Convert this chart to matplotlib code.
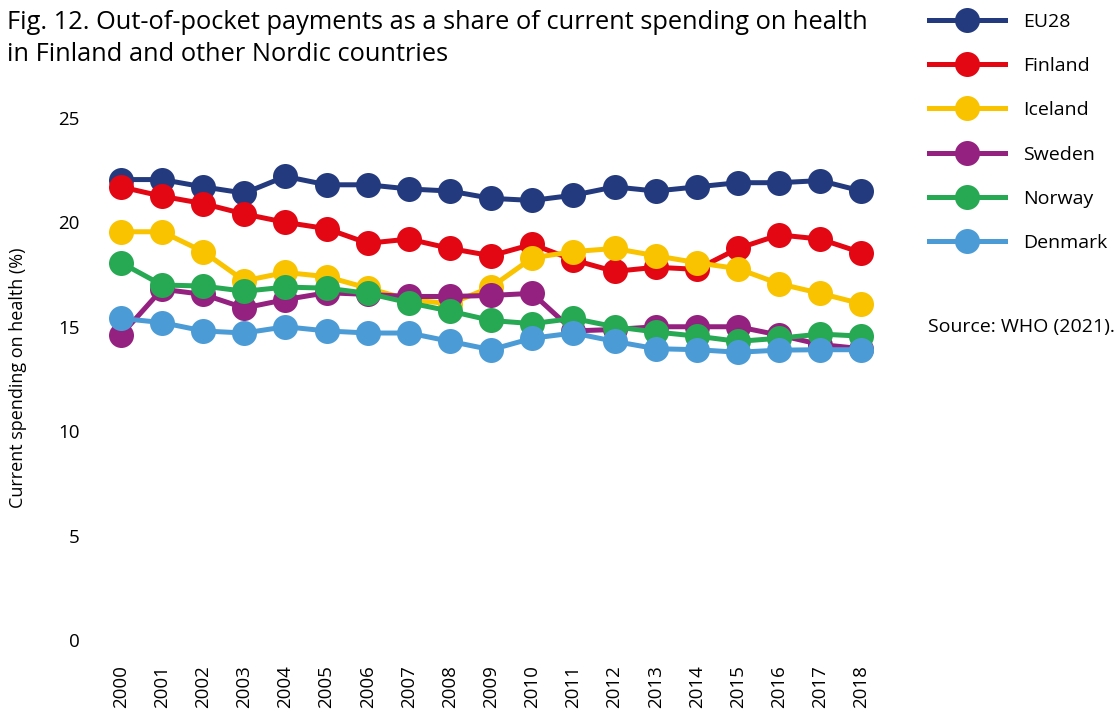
import numpy as np
import matplotlib
matplotlib.use("Agg")
import matplotlib.pyplot as plt

plt.rcParams["font.family"] = ["Open Sans", "DejaVu Sans"]

years = list(range(2000, 2019))
eu28 = [22.05, 22.05, 21.7, 21.4, 22.2, 21.8, 21.8, 21.6, 21.5, 21.15,
        21.05, 21.3, 21.7, 21.5, 21.7, 21.9, 21.9, 22.0, 21.5]
finland = [21.7, 21.25, 20.9, 20.4, 20.0, 19.7, 19.0, 19.2, 18.75, 18.4,
           18.95, 18.2, 17.65, 17.85, 17.75, 18.75, 19.4, 19.2, 18.55]
iceland = [19.55, 19.55, 18.6, 17.2, 17.6, 17.4, 16.85, 16.3, 16.1, 16.9,
           18.3, 18.6, 18.75, 18.4, 18.07, 17.78, 17.06, 16.6, 16.1]
sweden = [14.6, 16.8, 16.55, 15.9, 16.3, 16.63, 16.55, 16.45, 16.45, 16.5,
          16.6, 14.8, 14.87, 15.0, 15.0, 15.0, 14.6, 14.15, 13.95]
norway = [18.07, 17.0, 16.95, 16.7, 16.9, 16.85, 16.6, 16.15, 15.75, 15.3,
          15.15, 15.4, 15.0, 14.75, 14.55, 14.3, 14.45, 14.65, 14.55]
denmark = [15.4, 15.2, 14.8, 14.7, 15.0, 14.8, 14.7, 14.7, 14.3, 13.9,
           14.45, 14.7, 14.3, 13.95, 13.9, 13.78, 13.88, 13.9, 13.9]

series = [
    ("EU28", eu28, "#233a7e"),
    ("Finland", finland, "#e30613"),
    ("Iceland", iceland, "#f9c300"),
    ("Sweden", sweden, "#94207f"),
    ("Norway", norway, "#27a852"),
    ("Denmark", denmark, "#4b9cd6"),
]

fig = plt.figure(figsize=(11.15, 7.15), dpi=100)
ax = fig.add_axes([0.090, 0.105, 0.701, 0.730])

for name, vals, color in series:
    ax.plot(years, vals, color=color, lw=3.6, marker="o", markersize=18,
            markeredgewidth=0, label=name)

ax.set_xlim(1999.5, 2018.5)
ax.set_ylim(0, 25)
ax.set_yticks([0, 5, 10, 15, 20, 25])
ax.set_xticks(years, [str(y) for y in years], rotation=90)
ax.tick_params(length=0, labelsize=13.5)
ax.tick_params(axis="x", pad=18)
ax.tick_params(axis="y", pad=15)
for s in ax.spines.values():
    s.set_visible(False)

fig.text(0.016, 0.472, "Current spending on health (%)", rotation=90,
         ha="center", va="center", fontsize=13)
fig.text(0.006, 0.986, "Fig. 12. Out-of-pocket payments as a share of current spending on health\n"
         "in Finland and other Nordic countries", ha="left", va="top",
         fontsize=18.3, linespacing=1.38)

fig.legend(loc="upper left", bbox_to_anchor=(0.826, 0.993), frameon=False,
           fontsize=14, handlelength=3.9, handletextpad=0.95,
           labelspacing=1.35, borderaxespad=0)
fig.text(0.832, 0.543, "Source: WHO (2021).", ha="left", va="center", fontsize=14)

fig.savefig("out.png", dpi=100)
